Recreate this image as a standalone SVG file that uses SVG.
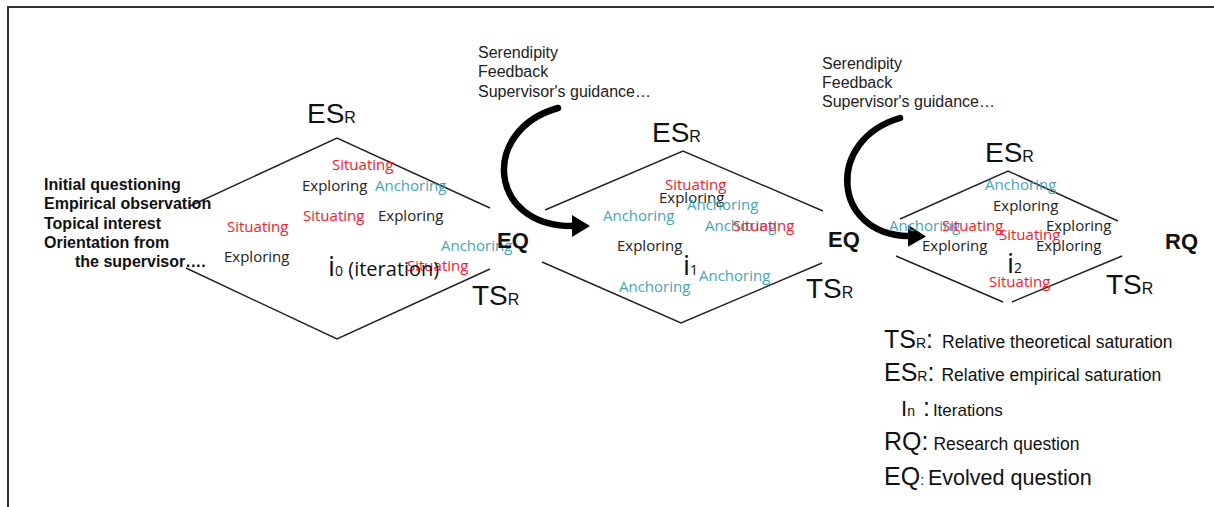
<svg xmlns="http://www.w3.org/2000/svg" width="1214" height="507" viewBox="0 0 1214 507">
<style>
.frame{stroke:#333;stroke-width:2;fill:none}
.dia{stroke:#222;stroke-width:1.4;fill:none}
.arc{stroke:#000;stroke-width:6.5;fill:none;stroke-linecap:round}
.src{font-family:"Liberation Sans",Arial,sans-serif;font-size:16px;fill:#222}
.init{font-family:"Liberation Sans",Arial,sans-serif;font-size:16px;font-weight:bold;fill:#111}
.big{font-family:"Liberation Sans",Arial,sans-serif;font-size:28px;fill:#111}
.sub{font-size:16px}
.q{font-family:"Liberation Sans",Arial,sans-serif;font-size:22px;font-weight:bold;fill:#111}
.w{font-family:"Open Sans","Noto Sans",sans-serif;font-size:15px}
.r{fill:#f2202c}
.t{fill:#4aa3b8}
.k{fill:#222}
.it{font-family:"Open Sans","Noto Sans",sans-serif;fill:#111}
.lg{font-family:"Liberation Sans",Arial,sans-serif;fill:#111}
</style>
<defs>
<marker id="head" markerUnits="userSpaceOnUse" markerWidth="20" markerHeight="22" refX="0" refY="11" orient="auto" viewBox="0 0 20 22">
<path d="M0,0 L18,11 L0,22 z" fill="#000"/>
</marker>
</defs>
<rect width="1214" height="507" fill="#fff"/>
<path class="frame" d="M8,507 V7 H1214"/>

<g id="connectors">
<path class="arc" d="M558,108 C480,130 488,226 572,226" marker-end="url(#head)"/>
<path class="arc" d="M900,118 C825,140 832,234 908,236" marker-end="url(#head)"/>
</g>

<g id="diamond-i0">
<polyline class="dia" points="190,206 337,138 490,208"/>
<polyline class="dia" points="186,268 337,339 490,269"/>
<text class="big" x="307" y="123">ES<tspan class="sub">R</tspan></text>
<text class="big" x="472" y="305">TS<tspan class="sub">R</tspan></text>
<text class="w r" x="332" y="170">Situating</text>
<text class="w k" x="302" y="191">Exploring</text>
<text class="w t" x="375" y="191">Anchoring</text>
<text class="w r" x="303" y="221">Situating</text>
<text class="w k" x="378" y="221">Exploring</text>
<text class="w r" x="227" y="232">Situating</text>
<text class="w k" x="224" y="262">Exploring</text>
<text class="w t" x="441" y="251">Anchoring</text>
<text class="w r" x="407" y="271">Situating</text>
<text class="it" x="328" y="276"><tspan font-size="28">i</tspan><tspan font-size="14">0</tspan><tspan font-size="20"> (iteration)</tspan></text>
</g>

<g id="start">
<text class="init" x="44" y="190">Initial questioning</text>
<text class="init" x="44" y="209">Empirical observation</text>
<text class="init" x="44" y="229">Topical interest</text>
<text class="init" x="44" y="248">Orientation from</text>
<text class="init" x="75" y="267">the supervisor….</text>
</g>

<g id="influences-1">
<text class="src" x="478" y="58">Serendipity</text>
<text class="src" x="478" y="77">Feedback</text>
<text class="src" x="478" y="97">Supervisor's guidance…</text>
</g>

<g id="eq-1"><text class="q" x="497" y="248">EQ</text></g>

<g id="diamond-i1">
<polyline class="dia" points="545,210 683,151 823,211"/>
<polyline class="dia" points="542,262 681,323 822,263"/>
<text class="big" x="652" y="142">ES<tspan class="sub">R</tspan></text>
<text class="big" x="806" y="298">TS<tspan class="sub">R</tspan></text>
<text class="w r" x="665" y="190">Situating</text>
<text class="w k" x="659" y="203">Exploring</text>
<text class="w t" x="687" y="210">Anchoring</text>
<text class="w t" x="603" y="221">Anchoring</text>
<text class="w t" x="705" y="231">Anchoring</text>
<text class="w r" x="733" y="231">Situating</text>
<text class="w k" x="617" y="251">Exploring</text>
<text class="w t" x="699" y="281">Anchoring</text>
<text class="w t" x="619" y="292">Anchoring</text>
<text class="it" x="683" y="275"><tspan font-size="28">i</tspan><tspan font-size="14">1</tspan></text>
</g>

<g id="influences-2">
<text class="src" x="822" y="69">Serendipity</text>
<text class="src" x="822" y="88">Feedback</text>
<text class="src" x="822" y="107">Supervisor's guidance…</text>
</g>

<g id="eq-2"><text class="q" x="828" y="247">EQ</text></g>

<g id="diamond-i2">
<polyline class="dia" points="900,219 1008,171 1118,221"/>
<polyline class="dia" points="896,256 1003,302"/>
<polyline class="dia" points="1012,302 1122,256"/>
<text class="big" x="985" y="162">ES<tspan class="sub">R</tspan></text>
<text class="big" x="1106" y="294">TS<tspan class="sub">R</tspan></text>
<text class="w t" x="985" y="190">Anchoring</text>
<text class="w k" x="993" y="211">Exploring</text>
<text class="w t" x="889" y="231">Anchoring</text>
<text class="w r" x="942" y="231">Situating</text>
<text class="w k" x="1046" y="231">Exploring</text>
<text class="w r" x="999" y="240">Situating</text>
<text class="w k" x="922" y="251">Exploring</text>
<text class="w k" x="1036" y="251">Exploring</text>
<text class="w r" x="989" y="287">Situating</text>
<text class="it" x="1007" y="273"><tspan font-size="28">i</tspan><tspan font-size="14">2</tspan></text>
</g>

<g id="rq"><text class="q" x="1165" y="249">RQ</text></g>

<g id="legend">
<text class="lg" x="884" y="348"><tspan font-size="25">TS</tspan><tspan font-size="14">R</tspan><tspan font-size="25">:</tspan><tspan font-size="17.5" dx="9">Relative theoretical saturation</tspan></text>
<text class="lg" x="884" y="381"><tspan font-size="25">ES</tspan><tspan font-size="14">R</tspan><tspan font-size="25">:</tspan><tspan font-size="17.5" dx="7">Relative empirical saturation</tspan></text>
<text class="lg" x="901" y="416"><tspan font-size="22">I</tspan><tspan font-size="14">n</tspan><tspan font-size="25" dx="8">:</tspan><tspan font-size="17" dx="3">Iterations</tspan></text>
<text class="lg" x="884" y="450"><tspan font-size="25">RQ:</tspan><tspan font-size="17.5" dx="5">Research question</tspan></text>
<text class="lg" x="884" y="485"><tspan font-size="25">EQ</tspan><tspan font-size="14">:</tspan><tspan font-size="21.5" dx="4">Evolved question</tspan></text>
</g>
</svg>
